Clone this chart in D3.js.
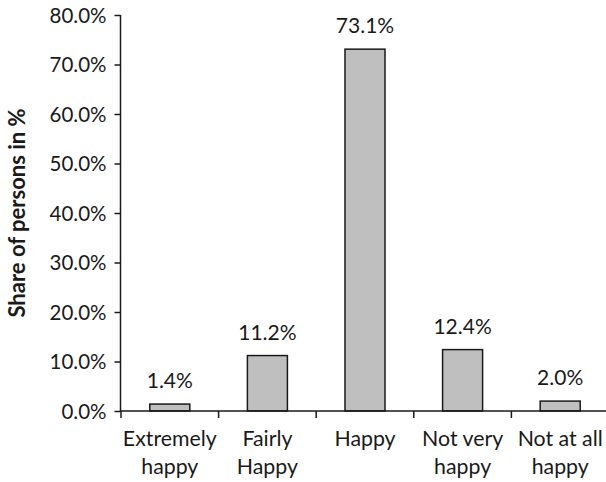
<!DOCTYPE html>
<html>
<head>
<meta charset="utf-8">
<script src="https://cdn.jsdelivr.net/npm/d3@7"></script>
<style>
  html, body { margin: 0; padding: 0; background: #fff; }
  svg text { font-family: Lato, "Open Sans", sans-serif; fill: #1a1a1a; }
</style>
</head>
<body>
<svg id="chart" width="606" height="482"></svg>
<script>
// Share of persons by self-reported happiness
const categories = [["Extremely", "happy"], ["Fairly", "Happy"], ["Happy"], ["Not very", "happy"], ["Not at all", "happy"]];
const shares = [1.4, 11.2, 73.1, 12.4, 2.0];
const yTicks = [0, 10, 20, 30, 40, 50, 60, 70, 80];

const svg = d3.select("#chart");
const x0 = 121, x1 = 609, yTop = 15, yBottom = 411;

const keys = categories.map(c => c.join(" "));
const x = d3.scaleBand().domain(keys).range([x0, x1]).paddingInner(0.59).paddingOuter(0.295);
const xEdges = d3.scaleBand().domain(keys).range([x0, x1]);
const y = d3.scaleLinear().domain([0, 80]).range([yBottom, yTop]);

// bars
svg.append("g").selectAll("rect").data(shares).join("rect")
  .attr("x", (d, i) => x(keys[i]))
  .attr("y", d => y(d))
  .attr("width", x.bandwidth())
  .attr("height", d => y(0) - y(d))
  .attr("fill", "#bfbfbf")
  .attr("stroke", "#1a1a1a")
  .attr("stroke-width", 1.5);

// value labels
svg.append("g").selectAll("text").data(shares).join("text")
  .attr("x", (d, i) => x(keys[i]) + x.bandwidth() / 2)
  .attr("y", d => y(d) - 16)
  .attr("text-anchor", "middle")
  .attr("font-size", 21)
  .text(d => d.toFixed(1) + "%");

// y axis
const yAxis = svg.append("g").attr("transform", `translate(${x0 - 0.5},0)`)
  .call(d3.axisLeft(y).tickValues(yTicks).tickSize(6).tickPadding(8).tickFormat(d => d.toFixed(1) + "%"));
yAxis.select(".domain").attr("stroke", "#1a1a1a").attr("stroke-width", 1.5).attr("d", `M0,${yTop}V${yBottom}`);
yAxis.selectAll(".tick line").attr("stroke", "#1a1a1a").attr("stroke-width", 1.5);
yAxis.selectAll(".tick text").attr("font-size", 20.5).attr("font-family", "Lato, 'Open Sans', sans-serif").attr("fill", "#1a1a1a").attr("dy", "0.35em");

// x axis with ticks at category boundaries
const xAxis = svg.append("g").attr("transform", `translate(0,${yBottom})`);
xAxis.append("line").attr("x1", x0 - 1).attr("x2", x1).attr("y1", 0).attr("y2", 0)
  .attr("stroke", "#1a1a1a").attr("stroke-width", 1.5);
xAxis.selectAll("line.tk").data(keys).join("line").attr("class", "tk")
  .attr("x1", d => xEdges(d)).attr("x2", d => xEdges(d))
  .attr("y1", 0).attr("y2", 7)
  .attr("stroke", "#1a1a1a").attr("stroke-width", 1.5);

// category labels
const lab = svg.append("g").selectAll("text").data(categories).join("text")
  .attr("text-anchor", "middle")
  .attr("font-size", 21.3)
  .attr("x", (d, i) => xEdges(keys[i]) + xEdges.bandwidth() / 2)
  .attr("y", 446);
lab.selectAll("tspan").data(d => d).join("tspan")
  .attr("x", function () { return this.parentNode.getAttribute("x"); })
  .attr("dy", (d, i) => i === 0 ? 0 : 28)
  .text(d => d);

// y axis title
svg.append("text")
  .attr("transform", `translate(25,${(yTop + yBottom) / 2}) rotate(-90)`)
  .attr("text-anchor", "middle")
  .attr("font-size", 22)
  .attr("font-weight", "bold")
  .text("Share of persons in %");
</script>
</body>
</html>
